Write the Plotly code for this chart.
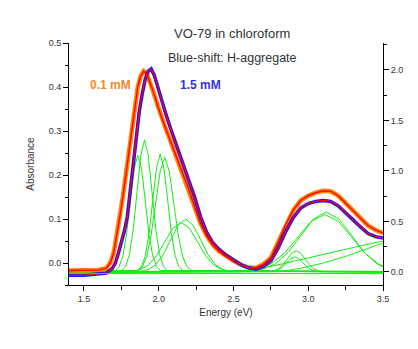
import plotly.graph_objects as go

energy_01 = [1.40, 1.50, 1.60, 1.65, 1.68, 1.70, 1.72, 1.74, 1.76, 1.78, 1.80,
             1.82, 1.84, 1.86, 1.88, 1.90, 1.92, 1.94, 1.96, 1.98, 2.00, 2.04,
             2.08, 2.12, 2.16, 2.20, 2.24, 2.28, 2.32, 2.36, 2.40, 2.45, 2.50,
             2.55, 2.60, 2.65, 2.70, 2.75, 2.80, 2.85, 2.90, 2.95, 3.00, 3.05,
             3.10, 3.15, 3.20, 3.25, 3.30, 3.35, 3.40, 3.45, 3.50]
abs_01 = [-0.017, -0.017, -0.016, -0.012, 0.003, 0.025, 0.062, 0.105, 0.150,
          0.200, 0.250, 0.305, 0.360, 0.400, 0.425, 0.436, 0.430, 0.413, 0.393,
          0.372, 0.350, 0.312, 0.276, 0.240, 0.205, 0.168, 0.128, 0.090, 0.062,
          0.042, 0.028, 0.015, 0.005, -0.004, -0.010, -0.011, -0.003, 0.012,
          0.048, 0.088, 0.120, 0.142, 0.153, 0.160, 0.164, 0.163, 0.153, 0.136,
          0.118, 0.100, 0.085, 0.075, 0.068]

energy_15 = [1.40, 1.50, 1.55, 1.60, 1.65, 1.69, 1.71, 1.73, 1.75, 1.77, 1.79,
             1.81, 1.83, 1.85, 1.87, 1.89, 1.91, 1.93, 1.95, 1.97, 1.99, 2.02,
             2.05, 2.08, 2.12, 2.16, 2.20, 2.24, 2.28, 2.32, 2.36, 2.40, 2.45,
             2.50, 2.55, 2.60, 2.65, 2.70, 2.75, 2.80, 2.85, 2.90, 2.95, 3.00,
             3.05, 3.10, 3.15, 3.20, 3.25, 3.30, 3.35, 3.40, 3.45, 3.50]
abs_15 = [-0.028, -0.028, -0.026, -0.025, -0.023, -0.012, 0.000, 0.022, 0.045,
          0.072, 0.105, 0.165, 0.235, 0.295, 0.345, 0.385, 0.418, 0.436, 0.441,
          0.427, 0.403, 0.368, 0.336, 0.305, 0.266, 0.230, 0.192, 0.150, 0.105,
          0.070, 0.047, 0.032, 0.018, 0.006, -0.004, -0.011, -0.014, -0.008,
          0.005, 0.035, 0.072, 0.103, 0.125, 0.135, 0.140, 0.142, 0.140, 0.130,
          0.115, 0.098, 0.082, 0.067, 0.060, 0.057]

# ── Fitted peak components (green, left axis) ────────────────────────────────
comp_x = [
    [1.40, 1.71, 1.735, 1.76, 1.785, 1.81, 1.835, 1.86, 1.885, 1.91, 1.935, 1.96, 1.985, 2.01, 3.50],
    [1.40, 1.755, 1.78, 1.805, 1.83, 1.855, 1.88, 1.905, 1.93, 1.955, 1.98, 2.005, 2.03, 2.055, 3.50],
    [1.40, 1.86, 1.885, 1.91, 1.935, 1.96, 1.985, 2.01, 2.035, 2.06, 2.085, 2.11, 2.135, 2.16, 3.50],
    [1.40, 1.86, 1.89, 1.92, 1.95, 1.98, 2.01, 2.04, 2.07, 2.10, 2.13, 2.16, 2.19, 2.22, 3.50],
    [1.40, 1.88, 1.93, 1.98, 2.03, 2.08, 2.13, 2.18, 2.23, 2.28, 2.33, 2.38, 2.43, 2.48, 3.50],
    [1.40, 1.82, 1.875, 1.93, 1.985, 2.04, 2.095, 2.15, 2.205, 2.26, 2.315, 2.37, 2.425, 2.48, 3.50],
    [1.40, 2.61, 2.695, 2.78, 2.865, 2.95, 3.035, 3.12, 3.205, 3.29, 3.375, 3.46, 3.50],
    [1.40, 2.57, 2.66, 2.75, 2.84, 2.93, 3.02, 3.11, 3.20, 3.29, 3.38, 3.47, 3.50],
    [1.40, 2.74, 2.77, 2.80, 2.83, 2.86, 2.89, 2.92, 2.95, 2.98, 3.01, 3.04, 3.07, 3.10, 3.50],
    [1.40, 2.745, 2.775, 2.80, 2.83, 2.855, 2.885, 2.91, 2.935, 2.965, 2.99, 3.02, 3.045, 3.075, 3.50],
    [1.40, 2.55, 2.75, 2.95, 3.15, 3.35, 3.50],
    [1.40, 2.80, 2.95, 3.10, 3.25, 3.40, 3.50],
]
comp_y = [
    [-0.020, -0.017, -0.008, 0.016, 0.066, 0.141, 0.214, 0.245, 0.214, 0.141, 0.066, 0.016, -0.008, -0.017, -0.020],
    [-0.021, -0.017, -0.007, 0.021, 0.078, 0.162, 0.245, 0.280, 0.245, 0.162, 0.078, 0.021, -0.007, -0.017, -0.021],
    [-0.019, -0.017, -0.008, 0.016, 0.067, 0.143, 0.216, 0.248, 0.216, 0.143, 0.067, 0.016, -0.008, -0.017, -0.019],
    [-0.020, -0.017, -0.009, 0.015, 0.065, 0.138, 0.209, 0.240, 0.209, 0.138, 0.065, 0.015, -0.009, -0.017, -0.020],
    [-0.020, -0.019, -0.015, -0.004, 0.019, 0.053, 0.086, 0.100, 0.086, 0.053, 0.019, -0.004, -0.015, -0.019, -0.020],
    [-0.020, -0.019, -0.015, -0.005, 0.016, 0.048, 0.079, 0.092, 0.079, 0.048, 0.016, -0.005, -0.015, -0.019, -0.020],
    [-0.020, -0.0185, -0.014, -0.002, 0.024, 0.063, 0.100, 0.116, 0.100, 0.063, 0.024, -0.002, -0.009],
    [-0.021, -0.019, -0.014, -0.002, 0.022, 0.059, 0.095, 0.110, 0.095, 0.059, 0.022, -0.002, -0.007],
    [-0.020, -0.0195, -0.018, -0.0135, -0.004, 0.009, 0.022, 0.028, 0.022, 0.009, -0.004, -0.0135, -0.018, -0.0195, -0.020],
    [-0.020, -0.0196, -0.0185, -0.0154, -0.009, 0.0006, 0.010, 0.014, 0.010, 0.0006, -0.009, -0.0154, -0.0185, -0.0196, -0.020],
    [-0.020, -0.020, -0.008, 0.008, 0.024, 0.039, 0.050],
    [-0.022, -0.020, -0.012, 0.000, 0.015, 0.032, 0.045],
]

# baseline of the fit, plotted against the right-hand axis
base_x = [1.40, 3.50]
base_y2 = [-0.016, -0.016]

# ── Axis settings ────────────────────────────────────────────────────────────
X_RANGE = [1.4, 3.5]
Y_RANGE = [-0.05, 0.5]
Y2_RANGE = [-0.129, 2.267]

FONT = "Liberation Sans, Arial, sans-serif"
GREEN = "#11ee11"
ORANGE = "#ff8000"
BLUE = "#1414ff"
RED = "#ff0000"

fig = go.Figure()

for xs, ys in zip(comp_x, comp_y):
    fig.add_trace(go.Scatter(x=xs, y=ys, mode="lines",
                             line=dict(color=GREEN, width=1), hoverinfo="skip"))
fig.add_trace(go.Scatter(x=base_x, y=base_y2, yaxis="y2", mode="lines",
                         line=dict(color=GREEN, width=1), hoverinfo="skip"))

# data (thick) with the red fit line drawn on top
fig.add_trace(go.Scatter(x=energy_01, y=abs_01, mode="lines",
                         line=dict(color=ORANGE, width=4.5), name="0.1 mM"))
fig.add_trace(go.Scatter(x=energy_15, y=abs_15, mode="lines",
                         line=dict(color=BLUE, width=3.5), name="1.5 mM"))
fig.add_trace(go.Scatter(x=energy_01, y=abs_01, mode="lines",
                         line=dict(color=RED, width=1.3), hoverinfo="skip"))
fig.add_trace(go.Scatter(x=energy_15, y=abs_15, mode="lines",
                         line=dict(color=RED, width=1.3), hoverinfo="skip"))

axis_common = dict(
    showgrid=False, zeroline=False, showline=True, linecolor="black",
    linewidth=1, ticks="outside", tickcolor="black", ticklen=5,
    automargin=False,
    tickfont=dict(family=FONT, size=9, color="#333333"),
)

# page body adds ~7 px offset, so the margins are trimmed on left/top
fig.update_layout(
    width=418, height=349,
    margin=dict(l=61, r=43, t=35, b=72),
    paper_bgcolor="white", plot_bgcolor="white",
    showlegend=False,
    font=dict(family=FONT, color="#333333"),
    xaxis=dict(
        range=X_RANGE, tick0=1.5, dtick=0.5, tickformat=".1f",
        minor=dict(ticks="outside", dtick=0.25, tick0=1.5, ticklen=4, tickcolor="black"),
        title=dict(text="Energy (eV)", font=dict(family=FONT, size=10, color="#333333"),
                   standoff=6),
        **axis_common,
    ),
    yaxis=dict(
        range=Y_RANGE, tick0=0, dtick=0.1, tickformat=".1f",
        minor=dict(ticks="outside", dtick=0.05, tick0=0, ticklen=3, tickcolor="black"),
        title=dict(text="Absorbance", font=dict(family=FONT, size=10, color="#333333"),
                   standoff=12),
        **axis_common,
    ),
    yaxis2=dict(
        range=Y2_RANGE, overlaying="y", side="right", tick0=0, dtick=0.5,
        tickformat=".1f",
        minor=dict(ticks="outside", dtick=0.25, tick0=0, ticklen=3, tickcolor="black"),
        **axis_common,
    ),
)

fig.add_annotation(text="VO-79 in chloroform", xref="paper", yref="paper",
                   x=0.52, y=1.04, yanchor="middle", showarrow=False,
                   font=dict(family=FONT, size=13, color="#333333"))
fig.add_annotation(text="Blue-shift: H-aggregate", xref="paper", yref="paper",
                   x=0.52, y=0.94, yanchor="middle", showarrow=False,
                   font=dict(family=FONT, size=12.5, color="#333333"))
fig.add_annotation(text="<b>0.1 mM</b>", xref="paper", yref="paper",
                   x=0.06, y=0.826, xanchor="left", yanchor="middle", showarrow=False,
                   font=dict(family=FONT, size=12, color="#f08a2a"))
fig.add_annotation(text="<b>1.5 mM</b>", xref="paper", yref="paper",
                   x=0.347, y=0.826, xanchor="left", yanchor="middle", showarrow=False,
                   font=dict(family=FONT, size=12, color="#3030dd"))

fig.write_html("out.html")
